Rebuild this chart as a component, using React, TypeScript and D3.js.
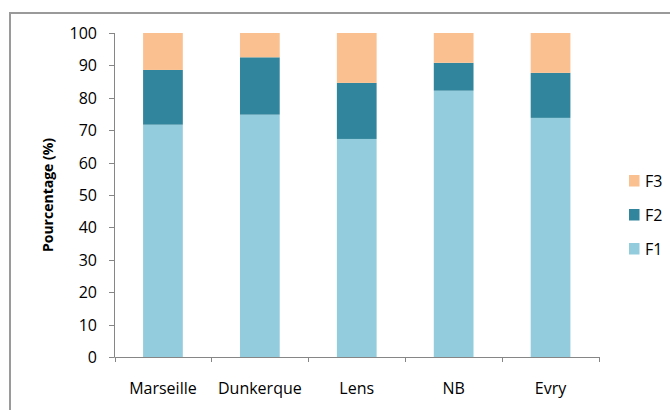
import React from "react";
import * as d3 from "d3";

const categories = ["Marseille", "Dunkerque", "Lens", "NB", "Evry"];
const seriesNames = ["F1", "F2", "F3"];
const F1 = [71.7, 74.8, 67.3, 82.2, 73.8];
const F2 = [16.9, 17.7, 17.3, 8.6, 13.9];
const F3 = [11.4, 7.5, 15.4, 9.2, 12.3];
const yTicks = [0, 10, 20, 30, 40, 50, 60, 70, 80, 90, 100];
const colors: Record<string, string> = { F1: "#93CDDD", F2: "#31859C", F3: "#FAC090" };

const W = 670;
const H = 410;
const FONT = "'Open Sans', sans-serif";

export default function App() {
  const x = d3
    .scaleBand<string>()
    .domain(categories)
    .range([114.5, 599])
    .paddingInner(0.59)
    .paddingOuter(0.295);
  const y = d3.scaleLinear().domain([0, 100]).range([357, 33]);

  const rows = categories.map((c, i) => ({ cat: c, F1: F1[i], F2: F2[i], F3: F3[i] }));
  const stacked = d3.stack<any>().keys(seriesNames)(rows);

  const axisColor = "#868686";
  const step = x.step();
  const x0 = x.range()[0];
  const boundaries = d3.range(categories.length + 1).map((i) => x0 + i * step);

  const legendOrder = ["F3", "F2", "F1"];

  return (
    <svg
      width={W}
      height={H}
      style={{ position: "absolute", left: 0, top: 0, background: "#fff" }}
      fontFamily={FONT}
    >
      <rect x={0} y={0} width={W} height={H} fill="#fff" />
      <rect x={10} y={13} width={W + 20} height={H + 20} fill="none" stroke="#9a9a9a" strokeWidth={2} />

      {stacked.map((s) => (
        <g key={s.key} fill={colors[s.key]}>
          {s.map((d, i) => (
            <rect
              key={i}
              x={x(categories[i])}
              width={x.bandwidth()}
              y={y(d[1])}
              height={y(d[0]) - y(d[1])}
            />
          ))}
        </g>
      ))}

      {/* Y axis */}
      <line x1={114.5} x2={114.5} y1={y(100)} y2={y(0)} stroke={axisColor} strokeWidth={1} />
      {yTicks.map((t) => (
        <g key={t}>
          <line x1={109} x2={114.5} y1={Math.round(y(t)) + 0.5} y2={Math.round(y(t)) + 0.5} stroke={axisColor} />
          <text x={97} y={y(t)} textAnchor="end" dominantBaseline="central" fontSize={16} fill="#000">
            {t}
          </text>
        </g>
      ))}

      {/* X axis */}
      <line x1={x0} x2={boundaries[boundaries.length - 1]} y1={357.5} y2={357.5} stroke={axisColor} />
      {boundaries.map((b, i) => (
        <line key={i} x1={Math.round(b) + 0.5} x2={Math.round(b) + 0.5} y1={357} y2={362} stroke={axisColor} />
      ))}
      {categories.map((c) => (
        <text key={c} x={(x(c) as number) + x.bandwidth() / 2} y={394} textAnchor="middle" fontSize={16} fill="#000">
          {c}
        </text>
      ))}

      {/* Y label */}
      <text
        transform={`translate(47,${(y(0) + y(100)) / 2}) rotate(-90)`}
        textAnchor="middle"
        dominantBaseline="central"
        fontSize={14}
        fontWeight="bold"
        fill="#000"
      >
        Pourcentage (%)
      </text>

      {/* Legend */}
      {legendOrder.map((k, i) => (
        <g key={k} transform={`translate(629,${175 + i * 34})`}>
          <rect x={0} y={0} width={10.5} height={11.5} fill={colors[k]} />
          <text x={16} y={6} dominantBaseline="central" fontSize={16} fill="#000">
            {k}
          </text>
        </g>
      ))}
    </svg>
  );
}
